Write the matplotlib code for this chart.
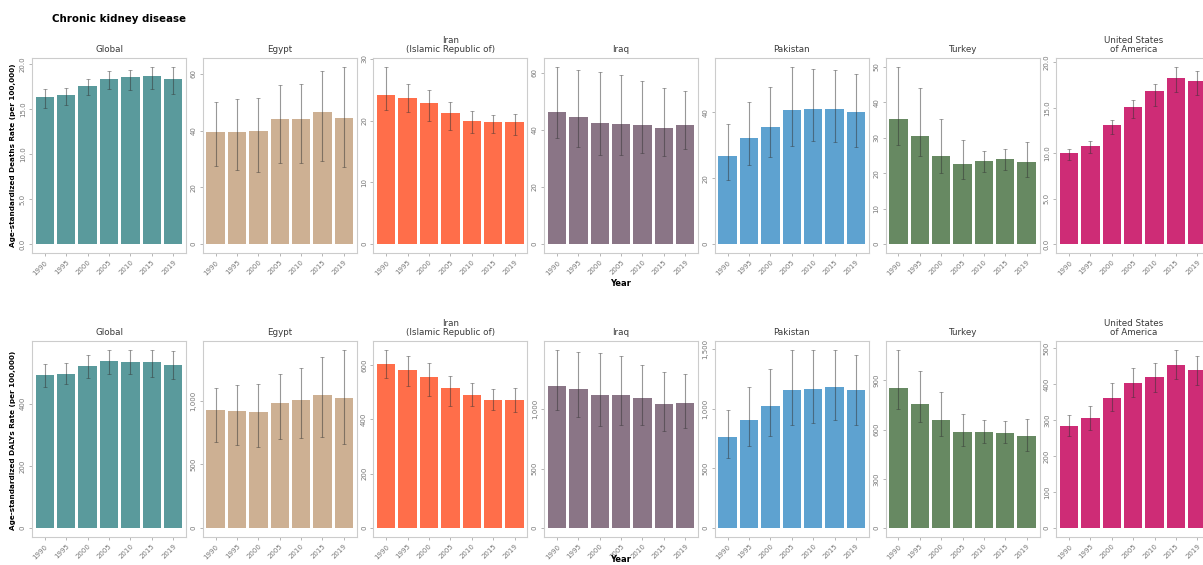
import matplotlib
matplotlib.use('Agg')
import matplotlib.pyplot as plt

years = ['1990', '1995', '2000', '2005', '2010', '2015', '2019']
countries = ['Global', 'Egypt', 'Iran\n(Islamic Republic of)', 'Iraq', 'Pakistan',
             'Turkey', 'United States\nof America']
colors = ['#5A9A9C', '#CDB093', '#FF6E4A', '#8A7586', '#5EA2D0', '#678962', '#CE2C76']

# deaths rate (per 100,000), one row per country
deaths_rate = [
    [16.3, 16.6, 17.6, 18.3, 18.6, 18.7, 18.4],
    [39.5, 39.5, 39.8, 44.1, 43.9, 46.4, 44.5],
    [24.1, 23.7, 22.9, 21.2, 20.0, 19.7, 19.7],
    [46.4, 44.5, 42.5, 42.2, 41.9, 40.6, 41.8],
    [26.7, 32.0, 35.5, 40.5, 41.0, 41.0, 40.0],
    [35.2, 30.5, 24.9, 22.6, 23.5, 24.0, 23.3],
    [10.0, 10.8, 13.1, 15.1, 16.8, 18.3, 17.9],
]
deaths_lower = [
    [15.1, 15.5, 16.6, 17.2, 17.1, 17.2, 16.7],
    [27.6, 26.1, 25.5, 28.7, 28.5, 29.4, 27.3],
    [21.7, 21.4, 20.0, 18.4, 18.0, 18.0, 17.6],
    [37.1, 34.0, 31.1, 31.4, 31.9, 30.9, 33.2],
    [19.5, 24.0, 26.5, 29.8, 31.3, 31.0, 29.5],
    [28.0, 24.9, 20.1, 18.5, 20.4, 20.8, 18.9],
    [9.3, 10.0, 12.1, 13.9, 15.2, 16.7, 16.4],
]
deaths_upper = [
    [17.2, 17.4, 18.4, 19.2, 19.4, 19.7, 19.7],
    [49.9, 51.1, 51.3, 56.0, 56.3, 61.0, 62.4],
    [28.7, 26.0, 24.9, 23.0, 21.5, 20.9, 21.1],
    [62.1, 61.0, 60.4, 59.2, 57.0, 54.7, 53.8],
    [36.3, 43.0, 47.7, 53.7, 53.2, 52.7, 51.5],
    [50.0, 43.9, 35.3, 29.4, 26.4, 26.9, 28.8],
    [10.5, 11.3, 13.7, 15.9, 17.6, 19.5, 19.1],
]
death_ticks = [[0, 5, 10, 15, 20], [0, 20, 40, 60], [0, 10, 20, 30], [0, 20, 40, 60],
               [0, 20, 40], [0, 10, 20, 30, 40, 50], [0, 5, 10, 15, 20]]
death_decimals = [1, 0, 0, 0, 0, 0, 1]

# DALYs rate (per 100,000)
dalys_rate = [
    [491, 497, 520, 536, 534, 533, 523],
    [929, 921, 916, 987, 1005, 1047, 1021],
    [604, 582, 557, 514, 491, 471, 471],
    [1196, 1165, 1120, 1118, 1090, 1042, 1053],
    [760, 908, 1020, 1156, 1170, 1179, 1156],
    [856, 755, 657, 588, 586, 582, 562],
    [283, 305, 361, 403, 419, 454, 439],
]
dalys_lower = [
    [455, 462, 483, 496, 494, 486, 478],
    [673, 654, 641, 699, 712, 720, 660],
    [552, 524, 485, 450, 450, 434, 426],
    [992, 936, 860, 866, 866, 818, 838],
    [584, 690, 768, 863, 885, 905, 863],
    [724, 643, 558, 501, 517, 517, 471],
    [255, 272, 324, 363, 379, 414, 397],
]
dalys_upper = [
    [528, 532, 556, 573, 572, 572, 569],
    [1105, 1123, 1131, 1215, 1262, 1346, 1401],
    [656, 632, 607, 561, 533, 512, 515],
    [1496, 1482, 1471, 1448, 1373, 1314, 1294],
    [989, 1187, 1332, 1492, 1494, 1492, 1453],
    [1085, 957, 830, 694, 657, 653, 667],
    [314, 340, 402, 446, 460, 495, 479],
]
daly_ticks = [[0, 200, 400], [0, 500, 1000], [0, 200, 400, 600], [0, 500, 1000],
              [0, 500, 1000, 1500], [0, 300, 600, 900], [0, 100, 200, 300, 400, 500]]
daly_decimals = [0, 0, 0, 0, 0, 0, 0]

W, H = 1203, 565
fig = plt.figure(figsize=(W / 100, H / 100), dpi=100)

border = '#cccccc'
tickcol = '#777777'


def fmt(v, d):
    if d:
        return '{:.1f}'.format(v)
    return '{:,}'.format(int(v))


def draw_panel(ax, vals, lo, hi, ticks, dec, color, title):
    x = list(range(len(years)))
    ax.bar(x, vals, width=0.86, color=color, zorder=2)
    yerr = [[v - l for v, l in zip(vals, lo)], [h - v for v, h in zip(vals, hi)]]
    ax.errorbar(x, vals, yerr=yerr, fmt='none', ecolor='#333333', alpha=0.5,
                elinewidth=0.8, capsize=1.2, capthick=0.6, zorder=3)
    top = max(hi)
    ax.set_ylim(-0.05 * top, top * 1.05)
    ax.set_xlim(-0.6, len(years) - 0.4)
    ax.set_xticks(x)
    ax.set_xticklabels(years, rotation=45, fontsize=5, color=tickcol,
                       ha='right', rotation_mode='anchor')
    ax.set_yticks(ticks)
    ax.set_yticklabels([fmt(t, dec) for t in ticks], rotation=90, fontsize=5,
                       color=tickcol, va='center')
    ax.tick_params(length=2.5, width=0.5, color='#999999', pad=2)
    for s in ax.spines.values():
        s.set_color(border)
        s.set_linewidth(0.8)
    ax.set_title(title, fontsize=6.3, color='#3a3a3a', pad=4, linespacing=1.0)


left0, step, pw = 32, 170.7, 154
rows = [
    (58, 253, deaths_rate, deaths_lower, deaths_upper, death_ticks, death_decimals),
    (341, 537, dalys_rate, dalys_lower, dalys_upper, daly_ticks, daly_decimals),
]

for top_px, bot_px, rate, lo, hi, ticks, decs in rows:
    for i in range(len(countries)):
        ax = fig.add_axes([(left0 + step * i) / W, 1 - bot_px / H, pw / W, (bot_px - top_px) / H])
        draw_panel(ax, rate[i], lo[i], hi[i], ticks[i], decs[i], colors[i], countries[i])

fig.text(52 / W, 1 - 19 / H, 'Chronic kidney disease', fontsize=7.4, fontweight='bold', va='center')
fig.text(13 / W, 1 - 155 / H, 'Age-standardized Deaths Rate (per 100,000)', rotation=90,
         fontsize=5.2, fontweight='bold', ha='center', va='center')
fig.text(13 / W, 1 - 440 / H, "Age-standardized DALYs Rate (per 100,000)", rotation=90,
         fontsize=5.2, fontweight='bold', ha='center', va='center')
fig.text(621 / W, 1 - 283 / H, 'Year', fontsize=6, fontweight='bold', ha='center', va='center')
fig.text(621 / W, 1 - 559 / H, 'Year', fontsize=6, fontweight='bold', ha='center', va='center')

fig.savefig('out.png', dpi=100)
